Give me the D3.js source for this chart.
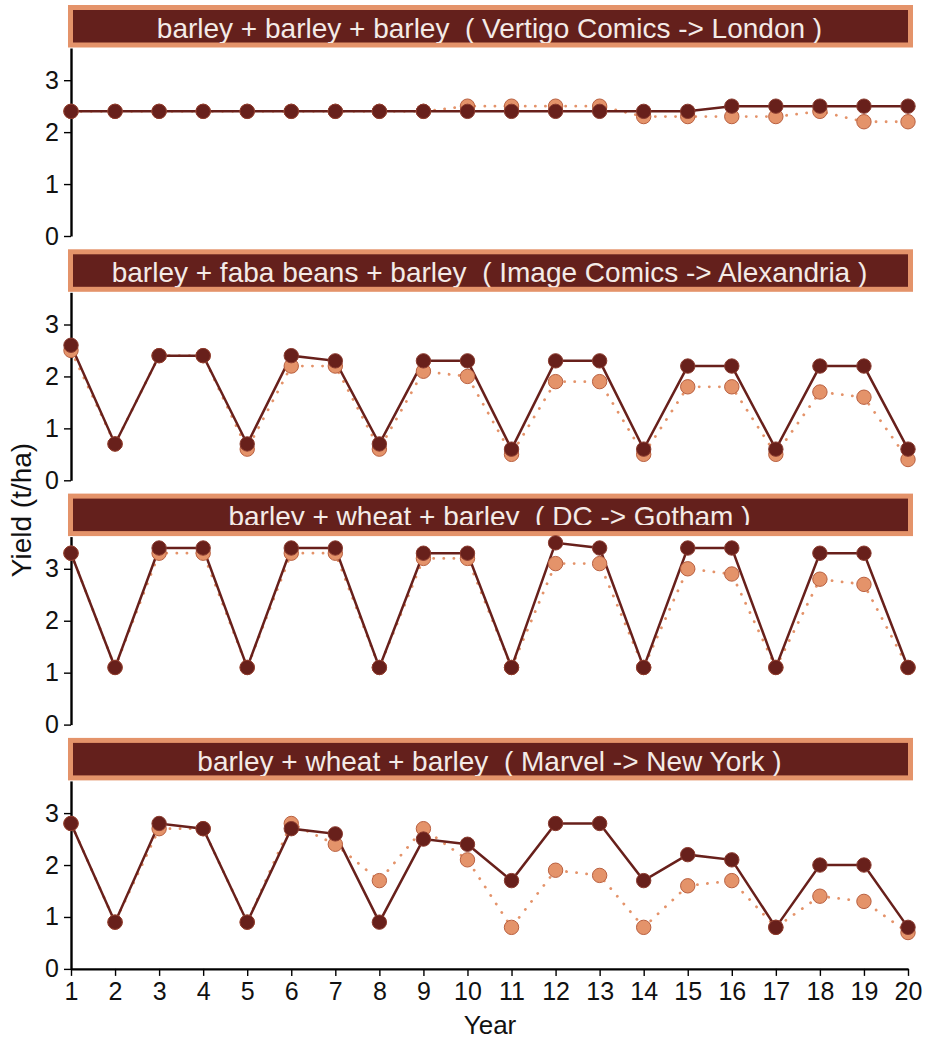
<!DOCTYPE html>
<html>
<head>
<meta charset="utf-8">
<script src="https://cdn.jsdelivr.net/npm/d3@7"></script>
<style>
  body { margin: 0; background: #fff; }
  svg text { font-family: "Liberation Sans", Arial, sans-serif; }
</style>
</head>
<body>
<svg id="chart" width="926" height="1041"></svg>
<script>
var years = d3.range(1, 21);

var panelTitles = [
  "barley + barley + barley  ( Vertigo Comics -> London )",
  "barley + faba beans + barley  ( Image Comics -> Alexandria )",
  "barley + wheat + barley  ( DC -> Gotham )",
  "barley + wheat + barley  ( Marvel -> New York )"
];

// solid series (dark)
var darkLondon = [2.4,2.4,2.4,2.4,2.4,2.4,2.4,2.4,2.4,2.4,2.4,2.4,2.4,2.4,2.4,2.5,2.5,2.5,2.5,2.5];
var darkAlexandria = [2.6,0.7,2.4,2.4,0.7,2.4,2.3,0.7,2.3,2.3,0.6,2.3,2.3,0.6,2.2,2.2,0.6,2.2,2.2,0.6];
var darkGotham = [3.3,1.1,3.4,3.4,1.1,3.4,3.4,1.1,3.3,3.3,1.1,3.5,3.4,1.1,3.4,3.4,1.1,3.3,3.3,1.1];
var darkNewYork = [2.8,0.9,2.8,2.7,0.9,2.7,2.6,0.9,2.5,2.4,1.7,2.8,2.8,1.7,2.2,2.1,0.8,2.0,2.0,0.8];

// dotted series (light)
var lightLondon = [2.4,2.4,2.4,2.4,2.4,2.4,2.4,2.4,2.4,2.5,2.5,2.5,2.5,2.3,2.3,2.3,2.3,2.4,2.2,2.2];
var lightAlexandria = [2.5,0.7,2.4,2.4,0.6,2.2,2.2,0.6,2.1,2.0,0.5,1.9,1.9,0.5,1.8,1.8,0.5,1.7,1.6,0.4];
var lightGotham = [3.3,1.1,3.3,3.3,1.1,3.3,3.3,1.1,3.2,3.2,1.1,3.1,3.1,1.1,3.0,2.9,1.1,2.8,2.7,1.1];
var lightNewYork = [2.8,0.9,2.7,2.7,0.9,2.8,2.4,1.7,2.7,2.1,0.8,1.9,1.8,0.8,1.6,1.7,0.8,1.4,1.3,0.7];

var darkSeries = [darkLondon, darkAlexandria, darkGotham, darkNewYork];
var lightSeries = [lightLondon, lightAlexandria, lightGotham, lightNewYork];

var yTicks = [0, 1, 2, 3];

var darkColor = "#68201b";
var lightColor = "#e4936a";
var lightStroke = "#b96040";

var svg = d3.select("#chart");
var defs = svg.append("defs");
var plotLeft = 71, plotRight = 908;
var panelTop = 48, panelStep = 244.3, plotH = 188;

var x = d3.scaleLinear().domain([1, 20]).range([plotLeft, plotRight]);

panelTitles.forEach(function(title, i) {
  var top = panelTop + i * panelStep;
  var y = d3.scaleLinear().domain([0, 3.62]).range([top + plotH, top]);
  var g = svg.append("g");

  // strip
  g.append("rect")
    .attr("x", 70.5).attr("y", top - 40.5)
    .attr("width", 840).attr("height", 37.5)
    .attr("fill", "#64201c")
    .attr("stroke", lightColor)
    .attr("stroke-width", 5);

  // the Gotham strip label gets its bottom cut off in the original
  var cut = (i === 2);
  defs.append("clipPath").attr("id", "strip-clip-" + i)
    .append("rect")
    .attr("x", 73).attr("y", top - 38)
    .attr("width", 835).attr("height", cut ? 26.5 : 33);

  g.append("text")
    .attr("x", (plotLeft + plotRight) / 2)
    .attr("y", top - (cut ? 10.5 : 10))
    .attr("text-anchor", "middle")
    .attr("fill", "#f4ebe7")
    .attr("font-size", 28)
    .attr("clip-path", "url(#strip-clip-" + i + ")")
    .style("white-space", "pre")
    .text(title);

  // y axis
  var yAxis = g.append("g")
    .attr("transform", "translate(" + plotLeft + ",0)")
    .call(d3.axisLeft(y).tickValues(yTicks).tickFormat(d3.format("d")).tickSize(7).tickSizeOuter(0));
  yAxis.select(".domain").attr("stroke-width", 2.4);
  yAxis.selectAll(".tick line").attr("stroke-width", 1.4);
  yAxis.selectAll(".tick text").attr("font-size", 25).attr("x", -12).attr("fill", "#111");

  var line = d3.line()
    .x(function(d, j) { return x(years[j]); })
    .y(function(d) { return y(d); });

  var light = lightSeries[i], dark = darkSeries[i];

  g.append("path").datum(light)
    .attr("d", line)
    .attr("fill", "none")
    .attr("stroke", lightColor)
    .attr("stroke-width", 2.8)
    .attr("stroke-linecap", "round")
    .attr("stroke-dasharray", "0.1,10");

  g.append("path").datum(dark)
    .attr("d", line)
    .attr("fill", "none")
    .attr("stroke", darkColor)
    .attr("stroke-width", 2.5);

  g.selectAll(".lp").data(light).enter().append("circle")
    .attr("cx", function(d, j) { return x(years[j]); })
    .attr("cy", function(d) { return y(d); })
    .attr("r", 7.2)
    .attr("fill", lightColor)
    .attr("stroke", lightStroke)
    .attr("stroke-width", 1);

  g.selectAll(".dp").data(dark).enter().append("circle")
    .attr("cx", function(d, j) { return x(years[j]); })
    .attr("cy", function(d) { return y(d); })
    .attr("r", 7.2)
    .attr("fill", darkColor)
    .attr("stroke", "#8a3a2e")
    .attr("stroke-width", 1);

  if (i === panelTitles.length - 1) {
    var xAxis = g.append("g")
      .attr("transform", "translate(0," + (top + plotH) + ")")
      .call(d3.axisBottom(x).tickValues(years).tickFormat(d3.format("d")).tickSize(7).tickSizeOuter(0));
    xAxis.select(".domain").attr("stroke-width", 2.4);
    xAxis.selectAll(".tick line").attr("stroke-width", 1.4);
    xAxis.selectAll(".tick text").attr("font-size", 25).attr("y", 13).attr("fill", "#111");
  }
});

svg.append("text")
  .attr("transform", "translate(31,510) rotate(-90)")
  .attr("text-anchor", "middle")
  .attr("font-size", 28)
  .attr("fill", "#111")
  .text("Yield (t/ha)");

svg.append("text")
  .attr("x", 490).attr("y", 1034)
  .attr("text-anchor", "middle")
  .attr("font-size", 26)
  .attr("fill", "#111")
  .text("Year");
</script>
</body>
</html>
